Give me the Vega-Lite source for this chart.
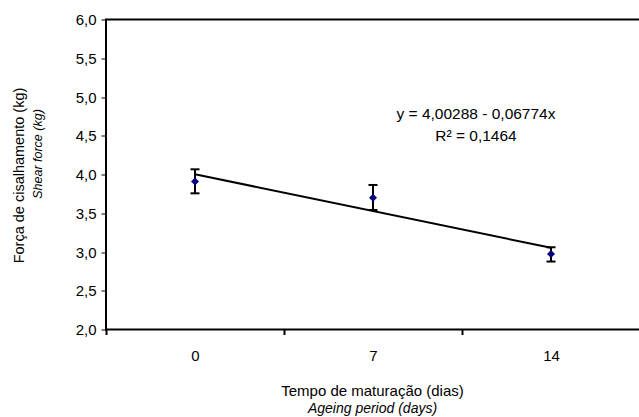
{
  "$schema": "https://vega.github.io/schema/vega-lite/v6.json",
  "width": 534,
  "height": 310,
  "autosize": "none",
  "padding": {"left": 106, "top": 19.5, "right": 0, "bottom": 87.5},
  "background": "white",
  "config": {
    "font": "Liberation Sans",
    "view": {"stroke": "black", "strokeWidth": 2},
    "axis": {"grid": false, "domain": false}
  },
  "datasets": {
    "points": [
      {"day": 0, "mean": 3.91, "lo": 3.757, "hi": 4.067},
      {"day": 7, "mean": 3.70, "lo": 3.542, "hi": 3.865},
      {"day": 14, "mean": 2.975, "lo": 2.877, "hi": 3.061}
    ],
    "fit": [
      {"day": 0, "value": 4.00288},
      {"day": 14, "value": 3.05452}
    ],
    "notes": [
      {"day": 11.05, "value": 4.78, "label": "y = 4,00288 - 0,06774x"},
      {"day": 11.05, "value": 4.497, "label": "R² = 0,1464"}
    ]
  },
  "layer": [
    {
      "data": {"name": "fit"},
      "mark": {"type": "line", "color": "black", "strokeWidth": 2},
      "encoding": {
        "x": {
          "field": "day", "type": "quantitative",
          "scale": {"domain": [-3.5, 17.5], "nice": false, "zero": false},
          "axis": {
            "orient": "bottom",
            "values": [-3.5, 0, 3.5, 7, 10.5, 14, 17.5],
            "labelExpr": "datum.value % 7 == 0 ? datum.label : ''",
            "tickOpacity": {"condition": {"test": "datum.value % 7 == 0", "value": 0}, "value": 1},
            "tickSize": 5, "tickWidth": 2, "tickColor": "black",
            "labelFontSize": 15, "labelPadding": 14, "labelColor": "black",
            "labelFlush": false, "labelOverlap": false,
            "title": "Tempo de maturação (dias)",
            "titleFontSize": 15, "titleFontWeight": "normal", "titleColor": "black",
            "titleX": 266, "titleY": 60.5, "titleBaseline": "middle", "titleAlign": "center", "titleAngle": 0
          }
        },
        "y": {
          "field": "value", "type": "quantitative",
          "scale": {"domain": [2, 6], "nice": false, "zero": false},
          "axis": {
            "orient": "left",
            "values": [2, 2.5, 3, 3.5, 4, 4.5, 5, 5.5, 6],
            "labelExpr": "replace(format(datum.value, '.1f'), '.', ',')",
            "tickSize": 5, "tickWidth": 1, "tickColor": "black",
            "labelFontSize": 15, "labelPadding": 5, "labelColor": "black",
            "labelFlush": false, "labelOverlap": false,
            "title": "Força de cisalhamento (kg)",
            "titleFontSize": 14.5, "titleFontWeight": "normal", "titleColor": "black",
            "titleX": -87, "titleY": 155.5, "titleAngle": -90, "titleBaseline": "middle", "titleAlign": "center"
          }
        }
      }
    },
    {
      "data": {"name": "points"},
      "mark": {"type": "rule", "color": "black", "strokeWidth": 2},
      "encoding": {
        "x": {"field": "day", "type": "quantitative", "axis": null},
        "y": {"field": "lo", "type": "quantitative", "axis": null},
        "y2": {"field": "hi"}
      }
    },
    {
      "data": {"name": "points"},
      "mark": {"type": "tick", "orient": "horizontal", "color": "black", "size": 9, "thickness": 2, "opacity": 1},
      "encoding": {
        "x": {"field": "day", "type": "quantitative", "axis": null},
        "y": {"field": "lo", "type": "quantitative", "axis": null}
      }
    },
    {
      "data": {"name": "points"},
      "mark": {"type": "tick", "orient": "horizontal", "color": "black", "size": 9, "thickness": 2, "opacity": 1},
      "encoding": {
        "x": {"field": "day", "type": "quantitative", "axis": null},
        "y": {"field": "hi", "type": "quantitative", "axis": null}
      }
    },
    {
      "data": {"name": "points"},
      "mark": {"type": "point", "shape": "diamond", "filled": true, "color": "#000080", "size": 65, "opacity": 1},
      "encoding": {
        "x": {"field": "day", "type": "quantitative", "axis": null},
        "y": {"field": "mean", "type": "quantitative", "axis": null}
      }
    },
    {
      "data": {"name": "notes"},
      "mark": {"type": "text", "fontSize": 15.5, "align": "center", "baseline": "middle", "color": "black"},
      "encoding": {
        "x": {"field": "day", "type": "quantitative", "axis": null},
        "y": {"field": "value", "type": "quantitative", "axis": null},
        "text": {"field": "label"}
      }
    },
    {
      "data": {"name": "points"},
      "mark": {"type": "point", "opacity": 0},
      "encoding": {
        "x": {
          "field": "day", "type": "quantitative",
          "axis": {
            "orient": "bottom", "domain": false, "ticks": false, "labels": false,
            "title": "Ageing period (days)",
            "titleFontSize": 14, "titleFontStyle": "italic", "titleFontWeight": "normal", "titleColor": "black",
            "titleX": 266, "titleY": 78.5, "titleBaseline": "middle", "titleAlign": "center", "titleAngle": 0
          }
        },
        "y": {
          "field": "mean", "type": "quantitative",
          "axis": {
            "orient": "left", "domain": false, "ticks": false, "labels": false,
            "title": "Shear force (kg)",
            "titleFontSize": 12.5, "titleFontStyle": "italic", "titleFontWeight": "normal", "titleColor": "black",
            "titleX": -69, "titleY": 134, "titleAngle": -90, "titleBaseline": "middle", "titleAlign": "center"
          }
        }
      }
    }
  ],
  "resolve": {"axis": {"x": "independent", "y": "independent"}}
}
